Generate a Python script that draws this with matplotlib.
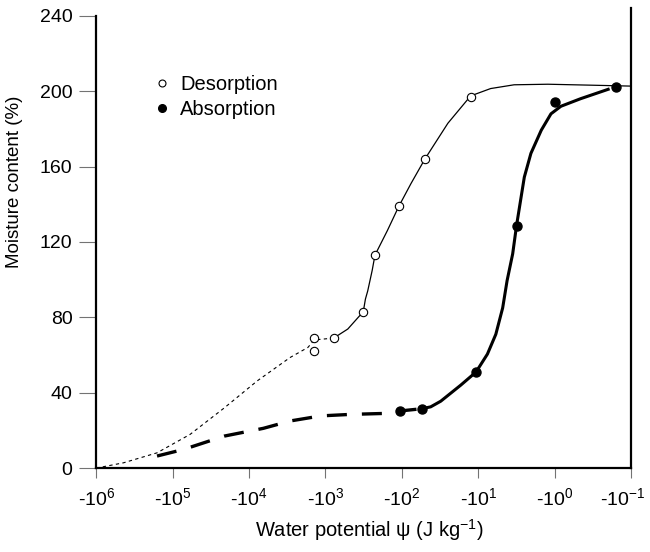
import numpy as np
import matplotlib
matplotlib.use("Agg")
import matplotlib.pyplot as plt
import matplotlib.transforms as mtransforms
from matplotlib.lines import Line2D

plt.rcParams['font.family'] = ['Liberation Sans', 'DejaVu Sans']
plt.rcParams['mathtext.fontset'] = 'custom'
plt.rcParams['mathtext.rm'] = 'Liberation Sans'
plt.rcParams['mathtext.it'] = 'Liberation Sans'
plt.rcParams['mathtext.default'] = 'regular'

# water potential (J/kg) and moisture content (%)
des_psi = [-1.4e3, -1.4e3, -780, -320, -225, -110, -50, -12.3]
des_mc = [69, 62, 69, 83, 113, 139, 164, 197]

abs_psi = [-107, -55, -10.7, -3.16, -1.0, -0.16]
abs_mc = [30.3, 31.5, 51, 128.7, 194.3, 202]

# fitted curves, extrapolated parts drawn dashed
des_ext_psi = [-1.0e6, -4.4e5, -1.6e5, -5.9e4, -2.1e4, -7.8e3, -2.9e3, -1.7e3, -1.4e3, -780]
des_ext_mc = [0, 2.8, 8.1, 17.9, 32, 46.3, 58.7, 64, 68, 69]
des_fit_psi = [-780, -510, -320, -300, -280, -245, -225, -155, -110, -76, -50,
               -25, -12.6, -6.9, -3.4, -1.23, -0.34, -0.10]
des_fit_mc = [69, 73.8, 83, 89.7, 94, 104.8, 113, 126, 138.8, 151, 164,
              183, 197.5, 201.4, 203.4, 203.7, 203.2, 202.7]

abs_ext_psi = [-1.6e5, -7.2e4, -2.1e4, -6.5e3, -2.9e3, -1.15e3, -470, -140, -107, -55]
abs_ext_mc = [6.4, 9.9, 17, 21.1, 25, 27.7, 28.5, 29.1, 30.3, 31.5]
abs_fit_psi = [-55, -42, -31, -17, -10.7, -7.6, -5.9, -4.8, -4.2, -3.55, -3.16,
               -2.8, -2.5, -2.05, -1.5, -1.12, -0.83, -0.46, -0.20]
abs_fit_mc = [31.5, 32.5, 35.5, 44, 51, 60.5, 71, 85, 99.5, 113.7, 128.7,
              142, 154.4, 167, 179.3, 188, 192, 196, 201]

xticks_exp = [6, 5, 4, 3, 2, 1, 0, -1]
yticks = [0, 40, 80, 120, 160, 200, 240]

fig = plt.figure(figsize=(6.5, 5.52), dpi=100)
ax = fig.add_axes([0.148, 0.152, 0.823, 0.833])

# plot magnitudes on an inverted log axis, labels carry the minus sign
def mag(v):
    return np.abs(np.asarray(v, dtype=float))

ax.plot(mag(des_ext_psi), des_ext_mc, color='black', lw=0.8, dashes=(3, 3))
ax.plot(mag(des_fit_psi), des_fit_mc, color='black', lw=0.9)
ax.plot(mag(abs_ext_psi), abs_ext_mc, color='black', lw=2.4, dashes=(6, 4.5))
ax.plot(mag(abs_fit_psi), abs_fit_mc, color='black', lw=2.2,
        solid_joinstyle='round')

ax.plot(mag(des_psi), des_mc, 'o', ms=6, mfc='white', mec='black', mew=0.8)
ax.plot(mag(abs_psi), abs_mc, 'o', ms=6.5, mfc='black', mec='black')

ax.set_xscale('log')
ax.set_xlim(1e6, 1e-1)
ax.set_ylim(0, 244)
ax.set_xticks([10.0 ** e for e in xticks_exp])
ax.set_xticklabels(['-10$^{%d}$' % e for e in xticks_exp])
ax.xaxis.set_minor_locator(matplotlib.ticker.NullLocator())
ax.set_yticks(yticks)

ax.spines['top'].set_visible(False)
ax.spines['left'].set_bounds(0, 240)
for s in ['left', 'bottom', 'right']:
    ax.spines[s].set_linewidth(1.6)

ax.tick_params(axis='y', direction='out', length=12, width=0.8, color='0.45',
               labelsize=14, pad=5)
ax.tick_params(axis='x', direction='out', length=7, width=0.8, color='0.45',
               labelsize=14, pad=7)

# nudge the last x label in so it stays on the canvas
last = ax.get_xticklabels()[-1]
last.set_transform(last.get_transform() +
                   mtransforms.ScaledTranslation(-6 / 72, 0, fig.dpi_scale_trans))

ax.set_xlabel('Water potential \u03c8 (J kg$^{-1}$)', fontsize=14.5)
ax.xaxis.set_label_coords(0.51, -0.106)
ax.set_ylabel('Moisture content (%)', fontsize=13.5)
ax.yaxis.set_label_coords(-0.136, 0.622)

handles = [
    Line2D([], [], ls='none', marker='o', ms=5, mfc='white', mec='black', mew=0.8),
    Line2D([], [], ls='none', marker='o', ms=5.5, mfc='black', mec='black'),
]
ax.legend(handles, ['Desorption', 'Absorption'], loc='upper left',
          bbox_to_anchor=(0.108, 0.855), frameon=False, fontsize=14.5,
          handlelength=0.8, handletextpad=0.5, labelspacing=0.3, borderpad=0,
          borderaxespad=0)

fig.savefig('out.png', dpi=100)
